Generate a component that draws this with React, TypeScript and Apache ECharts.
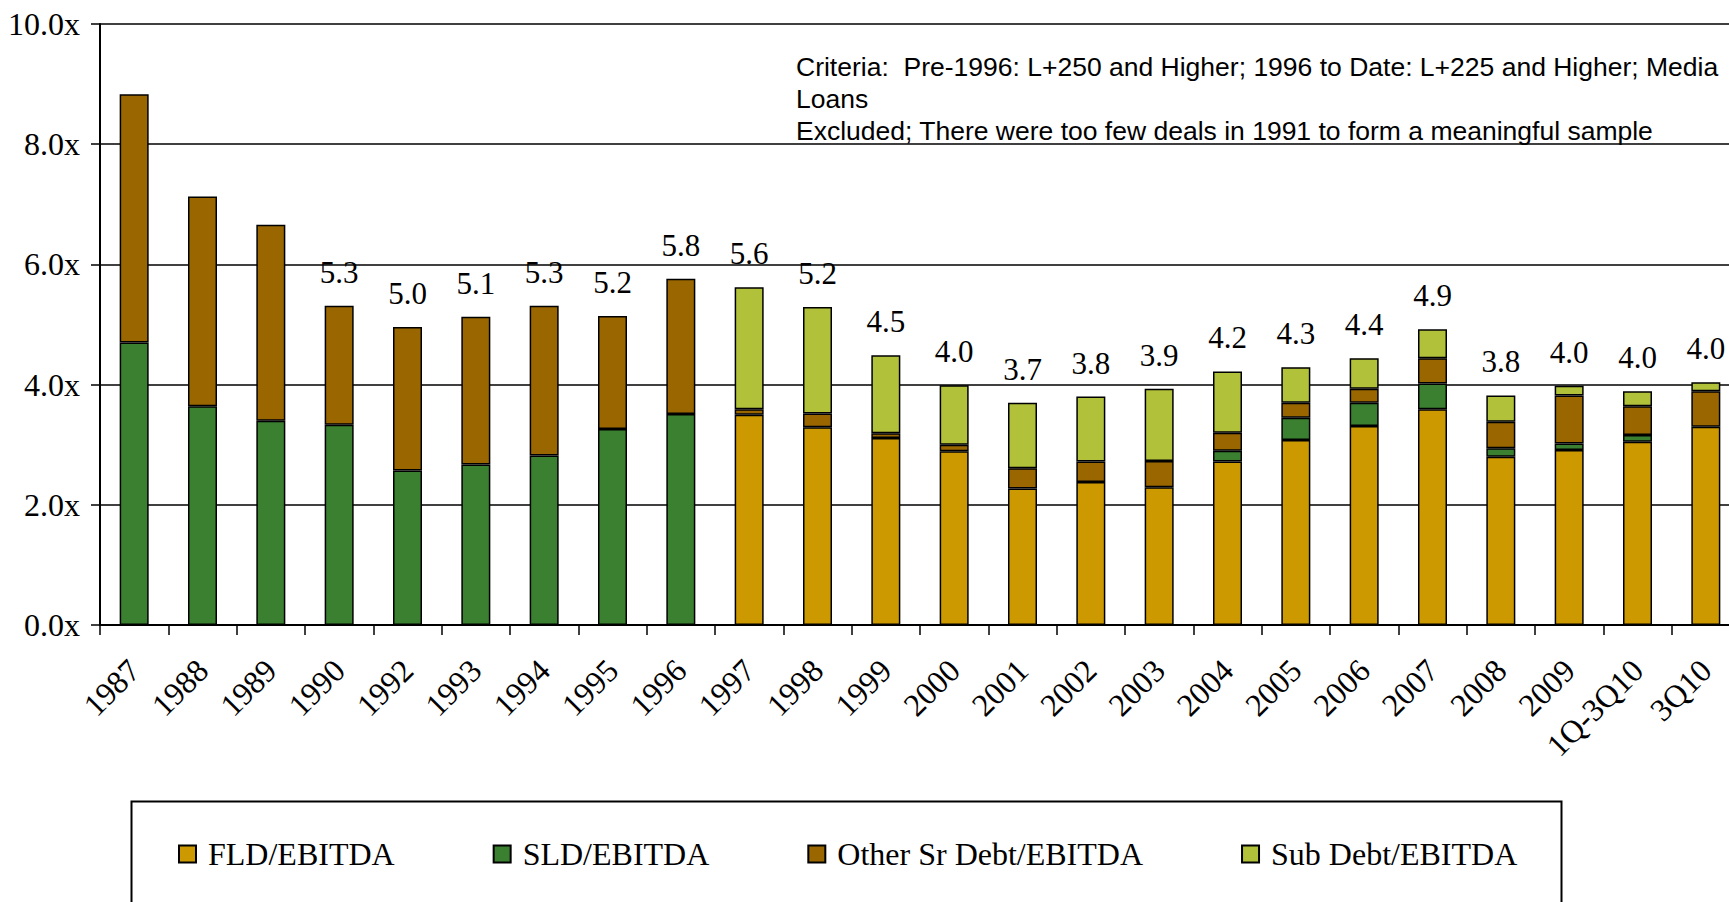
import React, { useEffect, useRef } from "react";
import * as echarts from "echarts";

const categories = [
  "1987", "1988", "1989", "1990", "1992", "1993", "1994", "1995", "1996",
  "1997", "1998", "1999", "2000", "2001", "2002", "2003", "2004", "2005",
  "2006", "2007", "2008", "2009", "1Q-3Q10", "3Q10",
];

const fldEbitda = [
  null, null, null, null, null, null, null, null, null,
  3.5, 3.29, 3.11, 2.89, 2.27, 2.38, 2.29, 2.72, 3.08,
  3.31, 3.59, 2.8, 2.91, 3.05, 3.3,
];

const sldEbitda = [
  4.7, 3.64, 3.4, 3.33, 2.57, 2.67, 2.82, 3.26, 3.51,
  null, null, null, null, null, null, null, 0.18, 0.37,
  0.39, 0.43, 0.14, 0.11, 0.11, null,
];

const otherSrDebtEbitda = [
  4.13, 3.49, 3.26, 1.98, 2.39, 2.46, 2.49, 1.88, 2.25,
  0.09, 0.23, 0.08, 0.11, 0.34, 0.34, 0.44, 0.3, 0.25,
  0.23, 0.42, 0.44, 0.8, 0.48, 0.59,
];

const subDebtEbitda = [
  null, null, null, null, null, null, null, null, null,
  2.03, 1.77, 1.3, 0.99, 1.09, 1.08, 1.2, 1.02, 0.59,
  0.51, 0.48, 0.44, 0.16, 0.25, 0.15,
];

const totalLabels = [
  null, null, null, 5.3, 5.0, 5.1, 5.3, 5.2, 5.8,
  5.6, 5.2, 4.5, 4.0, 3.7, 3.8, 3.9, 4.2, 4.3,
  4.4, 4.9, 3.8, 4.0, 4.0, 4.0,
];

const seriesNames = ["FLD/EBITDA", "SLD/EBITDA", "Other Sr Debt/EBITDA", "Sub Debt/EBITDA"];
const seriesColors = ["#CC9900", "#3B7F31", "#996600", "#B1C13A"];

const noteLines = [
  "Criteria:  Pre-1996: L+250 and Higher; 1996 to Date: L+225 and Higher; Media",
  "Loans",
  "Excluded; There were too few deals in 1991 to form a meaningful sample",
];

const SERIF = "'Liberation Serif', 'Times New Roman', serif";
const SANS = "'Liberation Sans', Arial, sans-serif";

export default function App() {
  const ref = useRef<HTMLDivElement>(null);

  useEffect(() => {
    if (!ref.current) return;
    const chart = echarts.init(ref.current, undefined, { renderer: "svg" });
    const datasets = [fldEbitda, sldEbitda, otherSrDebtEbitda, subDebtEbitda];
    const barSeries: any[] = datasets.map((d, i) => ({
      name: seriesNames[i],
      type: "bar",
      stack: "total",
      barWidth: 29,
      data: d,
      itemStyle: { color: seriesColors[i], borderColor: "#000", borderWidth: 1.5 },
    }));
    barSeries.push({
      name: "Total",
      type: "bar",
      stack: "total",
      barWidth: 29,
      data: categories.map(() => 0),
      itemStyle: { color: "transparent", borderWidth: 0 },
      label: {
        show: true,
        position: "top",
        distance: 18,
        fontFamily: SERIF,
        fontSize: 31,
        color: "#000",
        formatter: (p: any) => {
          const v = totalLabels[p.dataIndex];
          return v == null ? "" : v.toFixed(1);
        },
      },
      silent: true,
    });

    chart.setOption({
      animation: false,
      backgroundColor: "#fff",
      grid: { left: 100, top: 24, right: 20, bottom: 277, containLabel: false },
      legend: {
        data: seriesNames,
        left: 178,
        top: 838,
        padding: 0,
        icon: "rect",
        itemWidth: 17,
        itemHeight: 17,
        itemGap: 98,
        textStyle: {
          fontFamily: SERIF,
          fontSize: 32,
          color: "#000",
          padding: [0, 0, 0, 7],
        },
      },
      xAxis: {
        type: "category",
        data: categories,
        axisLine: { show: true, lineStyle: { color: "#000", width: 2 } },
        axisTick: { show: true, length: 10, lineStyle: { color: "#000", width: 1.5 } },
        axisLabel: {
          rotate: 45,
          interval: 0,
          margin: 40,
          fontFamily: SERIF,
          fontSize: 32,
          color: "#000",
        },
      },
      yAxis: {
        type: "value",
        min: 0,
        max: 10,
        interval: 2,
        axisLine: { show: true, lineStyle: { color: "#000", width: 2 } },
        axisTick: { show: true, length: 9, lineStyle: { color: "#000", width: 1.5 } },
        splitLine: { show: true, lineStyle: { color: "#000", width: 1.5 } },
        axisLabel: {
          margin: 20,
          fontFamily: SERIF,
          fontSize: 32,
          color: "#000",
          formatter: (v: number) => v.toFixed(1) + "x",
        },
      },
      graphic: [
        {
          type: "rect",
          left: 129,
          top: 799,
          shape: { width: 1430, height: 200 },
          style: { fill: "none", stroke: "#000", lineWidth: 2 },
          silent: true,
        },
        {
          type: "text",
          left: 796,
          top: 51,
          style: {
            text: noteLines.join("\n"),
            font: `26.5px ${SANS}`,
            lineHeight: 32,
            fill: "#000",
          },
          silent: true,
        },
      ],
      series: barSeries,
    });
    return () => chart.dispose();
  }, []);

  return (
    <div
      style={{
        position: "fixed",
        left: 0,
        top: 0,
        width: 1729,
        height: 902,
        overflow: "hidden",
        background: "#fff",
      }}
    >
      <div ref={ref} style={{ width: 1760, height: 902 }} />
    </div>
  );
}
